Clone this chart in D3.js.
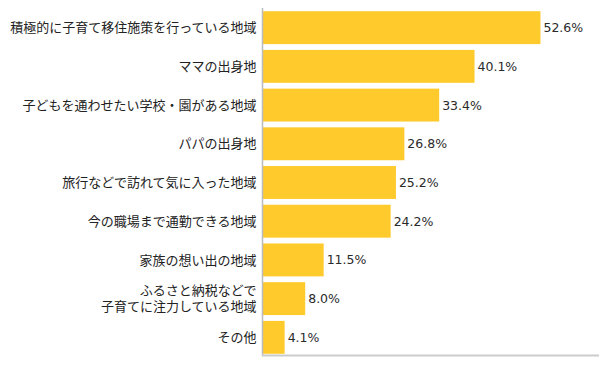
<!DOCTYPE html>
<html><head><meta charset="utf-8">
<script src="https://cdn.jsdelivr.net/npm/d3@7"></script>
<style>body{margin:0;background:#fff}svg{display:block;font-family:"Noto Sans CJK JP",sans-serif}</style>
</head><body><svg id="c" width="600" height="366"></svg>
<script>
const categories = [
  ["積極的に子育て移住施策を行っている地域"],
  ["ママの出身地"],
  ["子どもを通わせたい学校・園がある地域"],
  ["パパの出身地"],
  ["旅行などで訪れて気に入った地域"],
  ["今の職場まで通勤できる地域"],
  ["家族の想い出の地域"],
  ["ふるさと納税などで","子育てに注力している地域"],
  ["その他"]
];
const values = [52.6, 40.1, 33.4, 26.8, 25.2, 24.2, 11.5, 8.0, 4.1];
const valueLabels = ["52.6%","40.1%","33.4%","26.8%","25.2%","24.2%","11.5%","8.0%","4.1%"];

const svg = d3.select("#c");
const x0 = 262.5;
const x = d3.scaleLinear().domain([0, 64]).range([x0, x0 + 64*5.275]);
const y = d3.scaleBand().domain(d3.range(categories.length)).range([8.5, 356.5]).paddingInner(0.15).paddingOuter(0.07);

svg.selectAll("rect.bar").data(values).join("rect")
  .attr("class","bar")
  .attr("x", x(0)+0.5)
  .attr("y", (d,i)=>y(i))
  .attr("width", d=>x(d)-x(0))
  .attr("height", y.bandwidth())
  .attr("fill", "#FFCA2C");

svg.selectAll("text.val").data(values).join("text")
  .attr("class","val")
  .attr("x", d=>x(d)+3.5)
  .attr("y", (d,i)=>y(i)+y.bandwidth()/2)
  .attr("dy","0.36em")
  .attr("font-size", 12.5)
  .attr("fill", "#2a2a2a")
  .attr("font-family","'DejaVu Sans', sans-serif")
  .text((d,i)=>valueLabels[i]);

const lab = svg.selectAll("text.cat").data(categories).join("text")
  .attr("class","cat")
  .attr("text-anchor","end")
  .attr("font-size", 13)
  .attr("fill", "#222")
  .attr("x", 256.5)
  .attr("y", (d,i)=>y(i)+y.bandwidth()/2);
lab.each(function(d){
  const t = d3.select(this);
  const n = d.length;
  d.forEach((line,k)=>{
    t.append("tspan").attr("x",256.5)
      .attr("dy", k===0 ? (0.36 - (n-1)*0.62)+"em" : "1.24em")
      .text(line);
  });
});

svg.append("line").attr("x1",x0).attr("x2",x0).attr("y1",8).attr("y2",356)
  .attr("stroke","#bbb").attr("stroke-width",1.5);
svg.append("line").attr("x1",x0-0.5).attr("x2",599).attr("y1",355.5).attr("y2",355.5)
  .attr("stroke","#ccc").attr("stroke-width",2);
</script></body></html>
